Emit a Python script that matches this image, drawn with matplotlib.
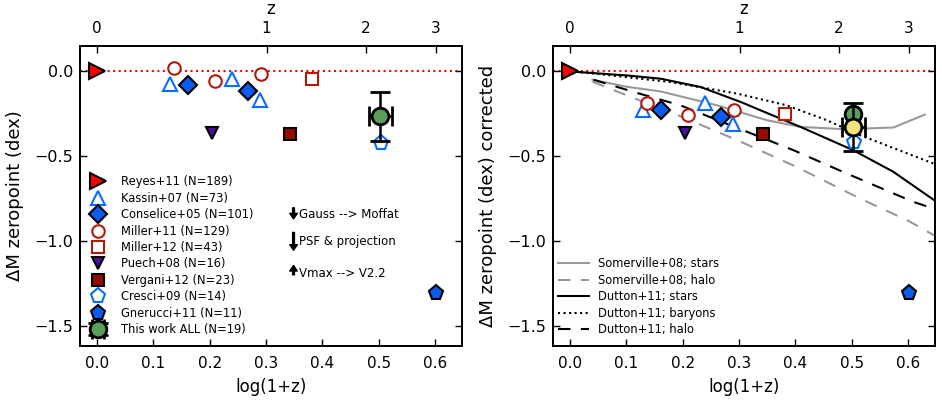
import numpy as np
import matplotlib
matplotlib.use("Agg")
import matplotlib.pyplot as plt

plt.rcParams['font.family'] = ['DejaVu Sans']
plt.rcParams['font.size'] = 11

# ---- observed zeropoint offsets (left panel) ----
reyes_x, reyes_y = [0.0], [0.0]
kassin_x = [0.130, 0.239, 0.290]
kassin_y = [-0.072, -0.043, -0.167]
conselice_x = [0.162, 0.268]
conselice_y = [-0.078, -0.118]
miller11_x = [0.137, 0.210, 0.292]
miller11_y = [0.022, -0.055, -0.014]
miller12_x, miller12_y = [0.381], [-0.047]
puech_x, puech_y = [0.205], [-0.363]
vergani_x, vergani_y = [0.343], [-0.367]
cresci_x, cresci_y = [0.505], [-0.425]
gnerucci_x, gnerucci_y = [0.602], [-1.308]
thiswork_x, thiswork_y = [0.503], [-0.265]
thiswork_xerr, thiswork_yerr = [0.02], [0.145]

# ---- corrected zeropoint offsets (right panel) ----
kassin_yc = [-0.229, -0.186, -0.308]
conselice_yc = [-0.229, -0.269]
miller11_yc = [-0.186, -0.259, -0.225]
miller12_yc = [-0.253]
puech_yc = [-0.363]
vergani_yc = [-0.367]
cresci_yc = [-0.418]
gnerucci_yc = [-1.308]
thiswork_yc_all = [-0.252]
thiswork_yc = [-0.328]
thiswork_yerr_c = [0.14]

# ---- model predictions ----
som_stars_x = [0.04, 0.10, 0.161, 0.261, 0.350, 0.409, 0.486, 0.574, 0.630]
som_stars_y = [-0.049, -0.090, -0.118, -0.200, -0.288, -0.327, -0.341, -0.331, -0.255]
som_halo_x = [0.04, 0.10, 0.20, 0.30, 0.40, 0.515, 0.60, 0.648]
som_halo_y = [-0.060, -0.140, -0.270, -0.410, -0.560, -0.750, -0.880, -0.970]
dut_stars_x = [0.0, 0.102, 0.161, 0.232, 0.303, 0.338, 0.409, 0.503, 0.574, 0.651]
dut_stars_y = [0.0, -0.024, -0.043, -0.092, -0.180, -0.229, -0.327, -0.465, -0.592, -0.770]
dut_bary_x = [0.0, 0.042, 0.179, 0.297, 0.385, 0.456, 0.515, 0.645]
dut_bary_y = [0.0, -0.012, -0.063, -0.131, -0.200, -0.288, -0.376, -0.543]
dut_halo_x = [0.042, 0.114, 0.196, 0.315, 0.397, 0.491, 0.609, 0.648]
dut_halo_y = [-0.049, -0.122, -0.200, -0.357, -0.465, -0.602, -0.769, -0.812]

z_ticks = [0, 1, 2, 3]

BLUE_E = '#0a6cff'
BLUE_F = '#0a5cf0'
RED_E = '#b01a0a'
DARKRED = '#960a00'
PURPLE = '#4a0fa0'
GREEN = '#5a9e5a'
YELLOW = '#f6e27a'

fig = plt.figure(figsize=(9.42, 4.04), dpi=100)
axL = fig.add_axes([80 / 942, 1 - 346 / 404, 382 / 942, 300 / 404])
axR = fig.add_axes([553 / 942, 1 - 346 / 404, 382 / 942, 300 / 404])


def draw_points(ax, ys):
    (ky, cy, m11y, m12y, py, vy, cry, gy) = ys
    h = []
    h.append(ax.plot(reyes_x, reyes_y, '>', ms=11, mfc='red', mec='black', mew=1.5,
                     label='Reyes+11 (N=189)', zorder=6)[0])
    h.append(ax.plot(kassin_x, ky, '^', ms=10, mfc='white', mec=BLUE_E, mew=1.5,
                     label='Kassin+07 (N=73)', zorder=5)[0])
    h.append(ax.plot(conselice_x, cy, 'D', ms=9, mfc=BLUE_F, mec='black', mew=1.5,
                     label='Conselice+05 (N=101)', zorder=5)[0])
    h.append(ax.plot(miller11_x, m11y, 'o', ms=9, mfc='white', mec=RED_E, mew=1.5,
                     label='Miller+11 (N=129)', zorder=5)[0])
    h.append(ax.plot(miller12_x, m12y, 's', ms=9, mfc='white', mec=RED_E, mew=1.5,
                     label='Miller+12 (N=43)', zorder=5)[0])
    h.append(ax.plot(puech_x, py, 'v', ms=9, mfc=PURPLE, mec='black', mew=1.5,
                     label='Puech+08 (N=16)', zorder=5)[0])
    h.append(ax.plot(vergani_x, vy, 's', ms=9, mfc=DARKRED, mec='black', mew=1.5,
                     label='Vergani+12 (N=23)', zorder=5)[0])
    h.append(ax.plot(cresci_x, cry, 'p', ms=11, mfc='white', mec=BLUE_E, mew=1.5,
                     label='Cresci+09 (N=14)', zorder=5)[0])
    h.append(ax.plot(gnerucci_x, gy, 'p', ms=11, mfc=BLUE_F, mec='black', mew=1.5,
                     label='Gnerucci+11 (N=11)', zorder=5)[0])
    return h


def style_axes(ax, ylabel):
    ax.axhline(0.0, color='red', ls=':', lw=1.5, zorder=1)
    ax.set_xlim(-0.03, 0.648)
    ax.set_ylim(-1.62, 0.15)
    ax.set_xticks(np.arange(0.0, 0.61, 0.1))
    ax.set_yticks([0.0, -0.5, -1.0, -1.5])
    ax.set_xlabel('log(1+z)', fontsize=12, labelpad=5)
    ax.set_ylabel(ylabel, fontsize=13, labelpad=7)
    ax.tick_params(direction='in', length=5, width=1, top=False, right=True, labelsize=11)
    ax.tick_params(axis='x', pad=7)
    ax.tick_params(axis='y', labelsize=11.5, pad=5)
    for s in ax.spines.values():
        s.set_linewidth(1.3)
    top = ax.twiny()
    top.set_xlim(ax.get_xlim())
    top.set_xticks([np.log10(1 + z) for z in z_ticks])
    top.set_xticklabels([str(z) for z in z_ticks])
    top.set_xlabel('z', fontsize=12, labelpad=5)
    top.tick_params(direction='in', length=5, width=1, labelsize=11, pad=7)
    for s in top.spines.values():
        s.set_linewidth(1.3)


# ---------------- left panel ----------------
style_axes(axL, 'ΔM zeropoint (dex)')
handles = draw_points(axL, (kassin_y, conselice_y, miller11_y, miller12_y,
                            puech_y, vergani_y, cresci_y, gnerucci_y))
tw = axL.errorbar(thiswork_x, thiswork_y, xerr=thiswork_xerr, yerr=thiswork_yerr,
                  fmt='o', ms=12, mfc=GREEN, mec='black', mew=2, ecolor='black',
                  elinewidth=1.8, capsize=7, capthick=1.8, zorder=7,
                  label='This work ALL (N=19)')
handles.append(tw)
axL.legend(handles=handles, loc='lower left', bbox_to_anchor=(0.0, 0.017),
           fontsize=8.3, frameon=False, numpoints=1,
           handlelength=2.3, handletextpad=0.85, labelspacing=0.3,
           borderaxespad=0.2, borderpad=0.2)

# correction arrows with notes
arrow_kw = dict(facecolor='black', edgecolor='black', width=1.3, headwidth=5.5,
                headlength=4, shrink=0)
axL.annotate('', xy=(0.349, -0.870), xytext=(0.349, -0.805), arrowprops=arrow_kw)
axL.annotate('', xy=(0.349, -1.055), xytext=(0.349, -0.950), arrowprops=arrow_kw)
axL.annotate('', xy=(0.349, -1.145), xytext=(0.349, -1.200), arrowprops=arrow_kw)
axL.text(0.358, -0.845, 'Gauss --> Moffat', fontsize=8.5, va='center', ha='left')
axL.text(0.358, -1.005, 'PSF & projection', fontsize=8.5, va='center', ha='left')
axL.text(0.358, -1.195, 'Vmax --> V2.2', fontsize=8.5, va='center', ha='left')

# ---------------- right panel ----------------
style_axes(axR, 'ΔM zeropoint (dex) corrected')
l1, = axR.plot(som_stars_x, som_stars_y, '-', color='#999999', lw=1.5,
               label='Somerville+08; stars', zorder=2)
l2, = axR.plot(som_halo_x, som_halo_y, '--', color='#999999', lw=1.5, dashes=(6, 5),
               label='Somerville+08; halo', zorder=2)
l3, = axR.plot(dut_stars_x, dut_stars_y, '-', color='black', lw=1.5,
               label='Dutton+11; stars', zorder=2)
l4, = axR.plot(dut_bary_x, dut_bary_y, ':', color='black', lw=1.5,
               label='Dutton+11; baryons', zorder=2)
l5, = axR.plot(dut_halo_x, dut_halo_y, '--', color='black', lw=1.5, dashes=(6, 5),
               label='Dutton+11; halo', zorder=2)
draw_points(axR, (kassin_yc, conselice_yc, miller11_yc, miller12_yc,
                  puech_yc, vergani_yc, cresci_yc, gnerucci_yc))
axR.plot(thiswork_x, thiswork_yc_all, 'o', ms=12, mfc=GREEN, mec='black', mew=2, zorder=6)
axR.errorbar(thiswork_x, thiswork_yc, xerr=thiswork_xerr, yerr=thiswork_yerr_c,
             fmt='o', ms=12, mfc=YELLOW, mec='black', mew=2, ecolor='black',
             elinewidth=1.8, capsize=7, capthick=1.8, zorder=7)
axR.legend(handles=[l1, l2, l3, l4, l5], loc='lower left', bbox_to_anchor=(0.0, 0.017),
           fontsize=8.3, frameon=False,
           handlelength=2.7, handletextpad=0.8, labelspacing=0.3,
           borderaxespad=0.2, borderpad=0.2)

fig.savefig('out.png', dpi=100)
